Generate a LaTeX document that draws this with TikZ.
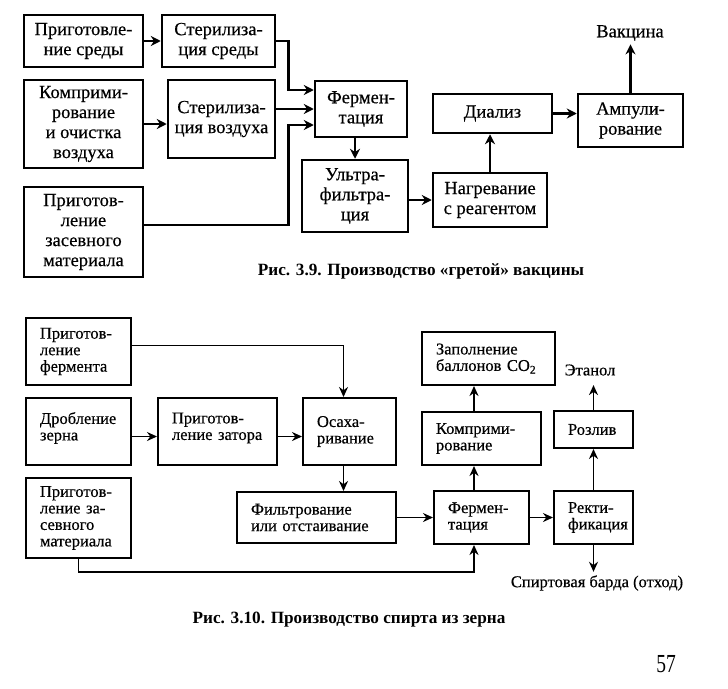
\documentclass[tikz,border=0pt]{standalone}
\usepackage{fontspec}
\setmainfont{Liberation Serif}
\newfontfamily\scanfont[FakeBold=0.4]{Liberation Serif}
\usetikzlibrary{arrows.meta}

\begin{document}
\begin{tikzpicture}[x=1pt,y=-1pt,
	box/.style={draw,line width=2.5pt,align=center,inner sep=2pt,font=\scanfont\fontsize{18.5}{20}\selectfont},
	sbox/.style={draw,line width=2pt,align=left,inner xsep=14pt,inner ysep=2pt,font=\scanfont\fontsize{16.5}{16.5}\selectfont},
	arr/.style={line width=2.5pt,-{Stealth[length=10pt,width=10pt]}},
	sarr/.style={line width=1.8pt,-{Stealth[length=10pt,width=9pt]}},
	capt/.style={font=\bfseries\fontsize{17.2}{19}\selectfont}]
	\useasboundingbox (0,0) rectangle (728,688);
	
	% fig. 3.9
	\node[box,minimum width=119pt,minimum height=52pt] (A) at (83.5,41) {Приготовле-\\ние среды};
	\node[box,minimum width=113pt,minimum height=52pt] (B) at (218.5,41) {Стерилиза-\\ция среды};
	\node[box,minimum width=119pt,minimum height=88pt] (C) at (83.5,124) {Комприми-\\рование\\и очистка\\воздуха};
	\node[box,minimum width=107pt,minimum height=78pt] (D) at (221.5,119) {Стерилиза-\\ция воздуха};
	\node[box,minimum width=119pt,minimum height=90pt] (E) at (83.5,232) {Приготов-\\ление\\засевного\\материала};
	\node[box,minimum width=92pt,minimum height=56pt] (F) at (361,109) {Фермен-\\тация};
	\node[box,minimum width=106pt,minimum height=72pt] (U) at (355,196) {Ультра-\\фильтра-\\ция};
	\node[box,minimum width=114pt,minimum height=54pt] (H) at (490,200) {Нагревание\\с реагентом};
	\node[box,minimum width=119pt,minimum height=39pt] (Di) at (492.5,113.5) {Диализ};
	\node[box,minimum width=105pt,minimum height=53pt] (Am) at (630.5,120.5) {Ампули-\\рование};
	\node[font=\scanfont\fontsize{18.5}{20}\selectfont] (V) at (630,33) {Вакцина};
	
	\draw[arr] (A) -- (B);
	\draw[arr] (B.east) -- ++(12,0) |- ([yshift=19pt]F.west);
	\draw[arr] (C.east) -- (C.east -| D.west);
	\draw[arr] (F.west -| D.east) -- (F.west);
	\draw[arr] ([yshift=7pt]E.east) -- ++(144,0) |- ([yshift=-16pt]F.west);
	\draw[arr] (U.north |- F.south) -- (U.north);
	\draw[arr] (U.east |- H.west) -- (H.west);
	\draw[arr] (H.north) -- (H.north |- Di.south);
	\draw[arr] (Di.east) -- (Di.east -| Am.west);
	\draw[arr] (Am.north) -- (Am.north |- V.south);
	
	\node[capt] (cap1) at (421,271) {Рис. 3.9. Производство «гретой» вакцины};
	
	% fig. 3.10
	\node[sbox,text width=77pt,minimum width=105pt,minimum height=67pt] (G) at (78.5,351.5) {Приготов-\\ление\\фермента};
	\node[sbox,text width=77pt,minimum width=105pt,minimum height=67pt] (Dr) at (78.5,431.5) {Дробление\\зерна\\[-6pt]\mbox{}};
	\node[sbox,text width=91pt,minimum width=119pt,minimum height=67pt] (Z) at (217.5,431.5) {Приготов-\\ление затора\\[-6pt]\mbox{}};
	\node[sbox,text width=65pt,minimum width=93pt,minimum height=67pt] (Os) at (349.5,431.5) {Осаха-\\ривание};
	\node[sbox,text width=77pt,minimum width=105pt,minimum height=80pt] (K) at (78.5,518) {Приготов-\\ление за-\\севного\\материала};
	\node[sbox,text width=131pt,minimum width=159pt,minimum height=51pt] (L) at (316.5,517.5) {Фильтрование\\или отстаивание};
	\node[sbox,text width=67pt,minimum width=95pt,minimum height=53pt] (M) at (481.5,517.5) {Фермен-\\тация};
	\node[sbox,text width=51pt,minimum width=79pt,minimum height=53pt] (R) at (593.5,517.5) {Ректи-\\фикация};
	\node[sbox,text width=91pt,minimum width=119pt,minimum height=53pt] (O) at (481.5,438.5) {Комприми-\\рование};
	\node[sbox,text width=105pt,minimum width=133pt,minimum height=53pt] (P) at (488.5,358.5) {Заполнение\\баллонов CO\textsubscript{2}};
	\node[sbox,text width=51pt,minimum width=79pt,minimum height=37pt] (Q) at (593.5,429.5) {Розлив};
	\node[font=\scanfont\fontsize{16.5}{16.5}\selectfont] (Et) at (590,370) {Этанол};
	\node[font=\scanfont\fontsize{16.5}{16.5}\selectfont] (Ba) at (597,583) {Спиртовая барда (отход)};
	
	\draw[sarr] ([yshift=6pt]G.east) -| ([xshift=-6pt]Os.north);
	\draw[sarr] ([yshift=-5pt]Dr.east) -- ([yshift=-5pt]Z.west);
	\draw[sarr] ([yshift=-5pt]Z.east) -- ([yshift=-5pt]Os.west);
	\draw[sarr] ([xshift=-6pt]Os.south) -- ([xshift=-6pt]Os.south |- L.north);
	\draw[sarr] (L) -- (M);
	\draw[sarr] (M) -- (R);
	\draw[sarr] (K.south) -- ++(0,13) -| ([xshift=-7.5pt]M.south);
	\draw[sarr] ([xshift=-7.5pt]M.north) -- ([xshift=-7.5pt]M.north |- O.south);
	\draw[sarr] ([xshift=-7.5pt]O.north) -- ([xshift=-7.5pt]O.north |- P.south);
	\draw[sarr] (R) -- (Q);
	\draw[sarr] (Q.north) -- ([yshift=-6pt]Q.north |- Et.south);
	\draw[sarr] (R.south) -- (R.south |- Ba.north);
	
	\node[capt] (cap2) at (349,620) {Рис. 3.10. Производство спирта из зерна};
	\node[font=\fontsize{26}{28}\selectfont] (pg) at (666,664) {\scalebox{0.75}[1]{57}};
\end{tikzpicture}
\end{document}
